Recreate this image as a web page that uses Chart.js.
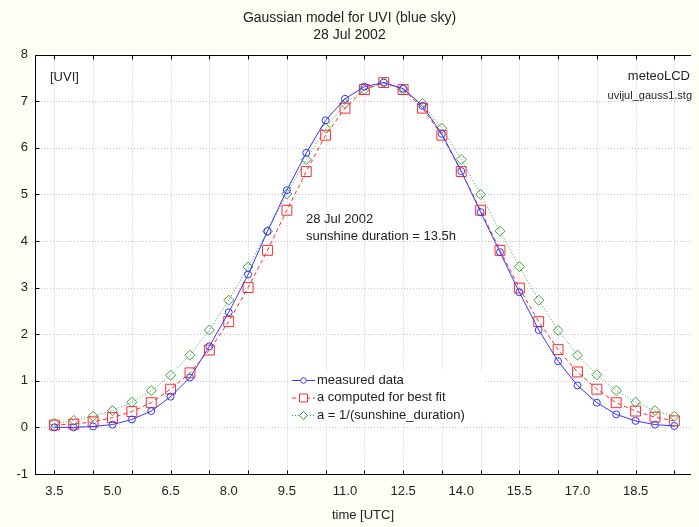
<!DOCTYPE html>
<html>
<head>
<meta charset="utf-8">
<title>Gaussian model for UVI</title>
<script src="https://cdn.jsdelivr.net/npm/chart.js@4.4.1/dist/chart.umd.min.js"></script>
<style>
  html, body { margin: 0; padding: 0; background: #fffff6; }
  #wrap { width: 699px; height: 527px; position: relative; }
</style>
</head>
<body>
<div id="wrap"><canvas id="graficaUvi"></canvas></div>
<script>
// Datos del gráfico
const horas = [3.5, 4.0, 4.5, 5.0, 5.5, 6.0, 6.5, 7.0, 7.5, 8.0, 8.5, 9.0, 9.5, 10.0, 10.5, 11.0, 11.5,
               12.0, 12.5, 13.0, 13.5, 14.0, 14.5, 15.0, 15.5, 16.0, 16.5, 17.0, 17.5, 18.0, 18.5, 19.0, 19.5];
const medido = [0.00, 0.00, 0.02, 0.06, 0.17, 0.35, 0.66, 1.07, 1.74, 2.47, 3.28, 4.21, 5.09, 5.89, 6.59, 7.05, 7.31,
                7.40, 7.27, 6.90, 6.30, 5.50, 4.62, 3.76, 2.90, 2.09, 1.42, 0.90, 0.53, 0.28, 0.14, 0.06, 0.03];
const ajuste = [0.05, 0.07, 0.12, 0.21, 0.34, 0.53, 0.82, 1.17, 1.66, 2.27, 3.00, 3.80, 4.66, 5.49, 6.27, 6.85, 7.25,
                7.40, 7.25, 6.85, 6.27, 5.49, 4.66, 3.80, 2.99, 2.27, 1.67, 1.19, 0.82, 0.53, 0.35, 0.22, 0.14];
const insolacion = [0.09, 0.15, 0.24, 0.36, 0.54, 0.79, 1.12, 1.55, 2.09, 2.73, 3.44, 4.21, 5.01, 5.75, 6.42, 6.95, 7.25,
                    7.40, 7.25, 6.95, 6.42, 5.75, 5.00, 4.21, 3.45, 2.73, 2.08, 1.55, 1.13, 0.79, 0.54, 0.36, 0.24];

// Ticks del eje X: rejilla cada hora, etiquetas cada 1.5 h
const rejillaX = [3.5, 4.5, 5.5, 6.5, 7.5, 8.5, 9.5, 10.5, 11.5, 12.5, 13.5, 14.5, 15.5, 16.5, 17.5, 18.5, 19.5];
const etiquetasX = [3.5, 5.0, 6.5, 8.0, 9.5, 11.0, 12.5, 14.0, 15.5, 17.0, 18.5];
const ticksY = [-1, 0, 1, 2, 3, 4, 5, 6, 7, 8];

const series = [
    { nombre: 'measured data', datos: medido, color: '#3737ff', dash: [], punto: 'circle', radio: 3.5 },
    { nombre: 'a computed for best fit', datos: ajuste, color: '#ff2a2a', dash: [4, 3], punto: 'rect', radio: 7 },
    { nombre: 'a = 1/(sunshine_duration)', datos: insolacion, color: '#3f9f3f', dash: [1, 2], punto: 'rectRot', radio: 5 }
];

const FUENTE = "'Liberation Sans', Arial, sans-serif";
const esIgual = (a, b) => Math.abs(a - b) < 1e-6;

// Fondo crema, área blanca, rejilla punteada, marco y ticks interiores
const marcoPlugin = {
    id: 'marco',
    beforeDraw(chart) {
        const { ctx, chartArea: a } = chart;
        ctx.save();
        ctx.fillStyle = '#fffff6';
        ctx.fillRect(0, 0, chart.width, chart.height);
        ctx.fillStyle = '#ffffff';
        ctx.fillRect(a.left, a.top, a.right - a.left, a.bottom - a.top);
        ctx.restore();
    },
    beforeDatasetsDraw(chart) {
        const { ctx, chartArea: a, scales } = chart;
        ctx.save();
        ctx.strokeStyle = '#c4c4c4';
        ctx.lineWidth = 1;
        ctx.setLineDash([1, 2]);
        ctx.beginPath();
        rejillaX.forEach(v => {
            const x = Math.round(scales.x.getPixelForValue(v)) + 0.5;
            ctx.moveTo(x, a.top); ctx.lineTo(x, a.bottom);
        });
        ticksY.forEach(v => {
            const y = Math.round(scales.y.getPixelForValue(v)) + 0.5;
            ctx.moveTo(a.left, y); ctx.lineTo(a.right, y);
        });
        ctx.stroke();
        ctx.restore();
    },
    afterDraw(chart) {
        const { ctx, chartArea: a, scales } = chart;
        const l = Math.round(a.left) + 0.5, t = Math.round(a.top) + 0.5, b = Math.round(a.bottom) + 0.5;
        ctx.save();
        ctx.strokeStyle = '#000';
        ctx.lineWidth = 1;
        ctx.beginPath();
        ctx.moveTo(a.right, t); ctx.lineTo(l, t); ctx.lineTo(l, b); ctx.lineTo(a.right, b);
        rejillaX.forEach(v => {
            const x = Math.round(scales.x.getPixelForValue(v)) + 0.5;
            ctx.moveTo(x, b); ctx.lineTo(x, b - 4);
            ctx.moveTo(x, t); ctx.lineTo(x, t + 4);
        });
        ticksY.forEach(v => {
            const y = Math.round(scales.y.getPixelForValue(v)) + 0.5;
            ctx.moveTo(l, y); ctx.lineTo(l + 4, y);
        });
        ctx.stroke();
        ctx.restore();
    }
};

// Textos dentro del gráfico y leyenda
const textosPlugin = {
    id: 'textos',
    afterDraw(chart) {
        const { ctx } = chart;
        ctx.save();
        ctx.fillStyle = '#222';
        ctx.textBaseline = 'middle';
        ctx.font = '13px ' + FUENTE;
        ctx.textAlign = 'left';
        ctx.fillText('[UVI]', 50, 77);
        ctx.fillText('28 Jul 2002', 306, 219);
        ctx.fillText('sunshine duration = 13.5h', 306, 236);
        ctx.textAlign = 'right';
        ctx.fillText('meteoLCD', 690, 76);
        ctx.font = '11px ' + FUENTE;
        ctx.fillText('uvijul_gauss1.stg', 692, 96);

        // leyenda
        ctx.fillStyle = '#ffffff';
        ctx.fillRect(291, 371, 194, 52);
        ctx.font = '13px ' + FUENTE;
        ctx.textAlign = 'left';
        series.forEach((s, i) => {
            const y = 380 + i * 17.5;
            ctx.strokeStyle = s.color;
            ctx.lineWidth = 1;
            ctx.setLineDash(s.dash);
            ctx.beginPath();
            ctx.moveTo(292, y + 0.5);
            ctx.lineTo(315, y + 0.5);
            ctx.stroke();
            ctx.setLineDash([]);
            ctx.fillStyle = '#ffffff';
            ctx.strokeStyle = s.color;
            Chart.helpers.drawPoint(ctx, {
                pointStyle: s.punto, radius: s.radio * 0.8, rotation: 0, borderWidth: 1
            }, 303.5, y + 0.5);
            ctx.fillStyle = '#222';
            ctx.fillText(s.nombre, 317, y);
        });
        ctx.restore();
    }
};

const ctx = document.getElementById('graficaUvi').getContext('2d');
new Chart(ctx, {
    type: 'line',
    data: {
        datasets: series.map(s => ({
            label: s.nombre,
            data: horas.map((h, i) => ({ x: h, y: s.datos[i] })),
            borderColor: s.color,
            borderWidth: 1,
            borderDash: s.dash,
            pointStyle: s.punto,
            pointRadius: s.radio,
            pointBorderColor: s.color,
            pointBackgroundColor: 'rgba(255,255,255,0)',
            pointBorderWidth: 1,
            tension: 0,
            fill: false
        }))
    },
    options: {
        responsive: true,
        maintainAspectRatio: false,
        animation: false,
        layout: { padding: { left: 0, right: 0, top: 0, bottom: 0 } },
        plugins: {
            legend: { display: false },
            tooltip: { enabled: false },
            title: {
                display: true,
                text: ['Gaussian model for UVI (blue sky)', '28 Jul 2002'],
                color: '#222',
                font: { family: FUENTE, size: 14, weight: 'normal', lineHeight: 1.2 },
                padding: { top: 10, bottom: 11 }
            }
        },
        scales: {
            x: {
                type: 'linear',
                min: 3.0,
                max: 19.93,
                afterBuildTicks: (scale) => {
                    const t = [];
                    for (const v of rejillaX) t.push(v);
                    for (const v of etiquetasX) if (!rejillaX.some(r => esIgual(r, v))) t.push(v);
                    t.sort((a, b) => a - b);
                    scale.ticks = t.map(v => ({ value: v }));
                },
                afterFit: (scale) => { scale.height = 53; },
                ticks: {
                    autoSkip: false,
                    maxRotation: 0,
                    padding: 10,
                    color: '#222',
                    font: { family: FUENTE, size: 13 },
                    callback: (v) => etiquetasX.some(e => esIgual(e, v)) ? Number(v).toFixed(1) : ''
                },
                grid: { display: false, drawTicks: false },
                border: { display: false },
                title: {
                    display: true,
                    text: 'time [UTC]',
                    color: '#222',
                    font: { family: FUENTE, size: 13 },
                    padding: { top: 2, bottom: 4 }
                }
            },
            y: {
                min: -1,
                max: 8,
                afterBuildTicks: (scale) => { scale.ticks = ticksY.map(v => ({ value: v })); },
                afterFit: (scale) => { scale.width = 35; },
                ticks: {
                    padding: 7,
                    color: '#222',
                    font: { family: FUENTE, size: 13 }
                },
                grid: { display: false, drawTicks: false },
                border: { display: false }
            }
        }
    },
    plugins: [marcoPlugin, textosPlugin]
});
</script>
</body>
</html>
